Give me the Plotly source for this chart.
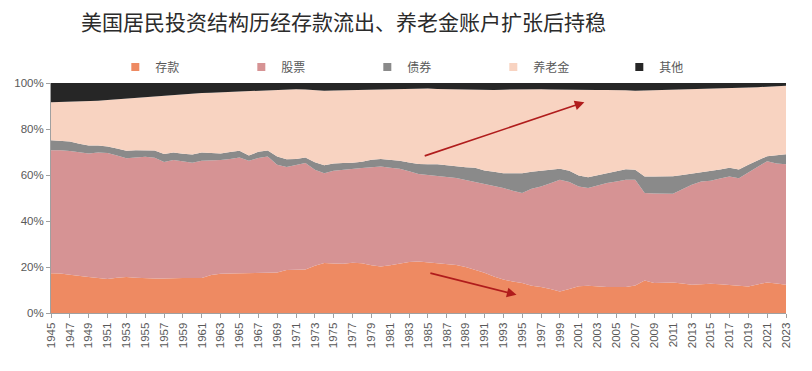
import plotly.graph_objects as go

years = list(range(1945, 2024))

# cumulative boundary readings (top of each band, %)
deposit_top = [17.3, 17.2, 16.6, 16.0, 15.6, 15.2, 14.8, 15.3, 15.6, 15.3,
               15.0, 15.0, 15.0, 15.2, 15.2, 15.2, 15.2, 16.5, 17.1, 17.2,
               17.3, 17.3, 17.3, 17.3, 17.6, 18.7, 18.7, 18.9, 20.5, 21.7,
               21.5, 21.4, 21.8, 21.6, 20.8, 20.2, 20.8, 21.4, 22.2, 22.4,
               22.0, 21.7, 21.4, 20.9, 20.0, 18.8, 17.5, 15.9, 14.6, 13.7,
               13.0, 11.8, 11.3, 10.4, 9.4, 10.4, 11.6, 11.8, 11.5, 11.3,
               11.3, 11.3, 12.0, 14.1, 13.0, 13.0, 13.3, 12.8, 12.3, 12.5,
               12.7, 12.5, 12.3, 11.8, 11.5, 12.5, 13.3, 12.8, 12.3]
stock_top = [70.8, 70.8, 70.4, 69.8, 69.4, 69.8, 69.6, 68.5, 67.3, 67.6,
             67.9, 67.5, 65.6, 66.5, 65.8, 65.3, 66.2, 66.3, 66.5, 67.0,
             67.6, 66.2, 67.4, 68.0, 64.5, 63.5, 64.5, 65.2, 62.3, 60.8,
             61.8, 62.3, 62.7, 63.0, 63.4, 63.7, 63.2, 62.7, 61.6, 60.4,
             60.0, 59.4, 59.1, 58.7, 57.8, 57.2, 56.2, 55.4, 54.3, 53.2,
             52.2, 54.0, 55.0, 56.4, 57.9, 57.0, 55.0, 54.3, 55.4, 56.5,
             57.2, 57.9, 57.9, 52.2, 52.0, 51.9, 51.8, 53.8, 55.8, 57.2,
             57.5, 58.5, 59.3, 58.6, 61.0, 63.5, 66.0, 65.0, 64.7]
bond_top = [75.1, 74.9, 74.6, 73.6, 72.8, 72.8, 72.4, 71.5, 70.5, 70.8,
            70.9, 70.7, 69.1, 69.8, 69.2, 68.9, 69.8, 69.6, 69.4, 70.0,
            70.5, 68.5, 70.1, 70.6, 68.0, 66.8, 67.0, 67.6, 65.5, 64.2,
            65.0, 65.2, 65.3, 65.8, 66.6, 67.0, 66.6, 66.2, 65.4, 64.8,
            64.7, 64.7, 64.2, 63.7, 63.4, 63.2, 62.0, 61.4, 60.8, 60.8,
            60.8, 61.4, 61.8, 62.3, 62.7, 61.8, 59.8, 59.0, 59.8, 60.8,
            61.7, 62.5, 62.3, 59.3, 59.3, 59.4, 59.5, 60.0, 60.6, 60.9,
            61.5, 62.4, 63.2, 62.4, 64.5, 66.5, 68.2, 68.6, 69.0]
pension_top = [91.6, 91.7, 91.8, 91.9, 92.0, 92.3, 92.6, 92.9, 93.3, 93.7,
               94.0, 94.3, 94.6, 95.0, 95.2, 95.4, 95.6, 95.8, 96.0, 96.2,
               96.4, 96.6, 96.8, 96.9, 97.0, 97.2, 97.3, 97.2, 96.8, 96.6,
               96.7, 96.8, 96.9, 97.0, 97.2, 97.4, 97.5, 97.6, 97.7, 97.7,
               97.6, 97.4, 97.3, 97.3, 97.2, 97.1, 97.0, 97.0, 97.1, 97.2,
               97.2, 97.3, 97.3, 97.2, 97.1, 97.1, 97.0, 97.0, 97.0, 97.0,
               97.0, 96.8, 96.6, 96.7, 96.9, 97.0, 97.1, 97.2, 97.3, 97.4,
               97.5, 97.6, 97.7, 97.8, 98.0, 98.2, 98.4, 98.6, 98.8]

deposits = [round(d, 1) for d in deposit_top]
stocks = [round(s - d, 1) for s, d in zip(stock_top, deposit_top)]
bonds = [round(b - s, 1) for b, s in zip(bond_top, stock_top)]
pensions = [round(p - b, 1) for p, b in zip(pension_top, bond_top)]
others = [round(100 - p, 1) for p in pension_top]

series_names = ["存款", "股票", "债券", "养老金", "其他"]
series_values = [deposits, stocks, bonds, pensions, others]
colors = ["#EE8A62", "#D69394", "#8A8A8A", "#F8D3C1", "#262626"]

tick_years = list(range(1945, 2024, 2))
tick_labels = [str(y) for y in tick_years]
y_ticks = [0, 20, 40, 60, 80, 100]
y_tick_labels = [f"{v}%" for v in y_ticks]

title_text = "美国居民投资结构历经存款流出、养老金账户扩张后持稳"

fig = go.Figure()
for name, vals, col in zip(series_names, series_values, colors):
    fig.add_trace(go.Scatter(
        x=years, y=vals, name=name, stackgroup="one", mode="lines",
        line=dict(width=0, color=col), fillcolor=col, showlegend=False,
    ))
# legend entries (square markers)
for name, col in zip(series_names, colors):
    fig.add_trace(go.Scatter(
        x=[None], y=[None], name=name, mode="markers",
        marker=dict(symbol="square", size=8, color=col), showlegend=True,
    ))

arrow_color = "#B01C1C"
fig.add_annotation(x=2001.6, y=91.6, ax=1984.5, ay=68.1, xref="x", yref="y",
                   axref="x", ayref="y", showarrow=True, arrowhead=2,
                   arrowsize=1.2, arrowwidth=1.6, arrowcolor=arrow_color, text="")
fig.add_annotation(x=1994.4, y=7.9, ax=1985.1, ay=17.5, xref="x", yref="y",
                   axref="x", ayref="y", showarrow=True, arrowhead=2,
                   arrowsize=1.2, arrowwidth=1.6, arrowcolor=arrow_color, text="")

# chart title as a paper-anchored text
fig.add_annotation(text=title_text, xref="paper", yref="paper",
                   x=(71 - 43) / 735, y=1 + (75 - 13) / 230,
                   xanchor="left", yanchor="middle", showarrow=False,
                   font=dict(family="Noto Sans CJK SC", size=21, color="#2b2b2b"))

# page body adds an 8px offset; margins compensate for it
fig.update_layout(
    width=812, height=371,
    margin=dict(l=43, r=34, t=75, b=66, autoexpand=False),
    paper_bgcolor="white", plot_bgcolor="white",
    legend=dict(orientation="h", x=0.0875, xanchor="left", y=1.0696,
                yanchor="middle", traceorder="normal",
                entrywidth=81, entrywidthmode="pixels", itemwidth=30,
                font=dict(family="Noto Sans CJK SC", size=12, color="#595959"),
                bgcolor="rgba(0,0,0,0)"),
    showlegend=True,
)
fig.update_xaxes(
    range=[1945, 2023], tickvals=tick_years, ticktext=tick_labels,
    tickangle=-90, ticks="outside", ticklen=4, tickcolor="#A0A0A0",
    showline=True, linecolor="#A0A0A0", linewidth=1, showgrid=False,
    zeroline=False, automargin=False,
    tickfont=dict(family="Liberation Sans", size=11.5, color="#595959"),
)
fig.update_yaxes(
    range=[0, 100], tickvals=y_ticks, ticktext=y_tick_labels,
    ticks="outside", ticklen=4, tickcolor="#A0A0A0",
    showline=True, linecolor="#A0A0A0", linewidth=1, showgrid=False,
    zeroline=False, automargin=False,
    tickfont=dict(family="Liberation Sans", size=11.5, color="#595959"),
)

fig.write_html("out.html")
